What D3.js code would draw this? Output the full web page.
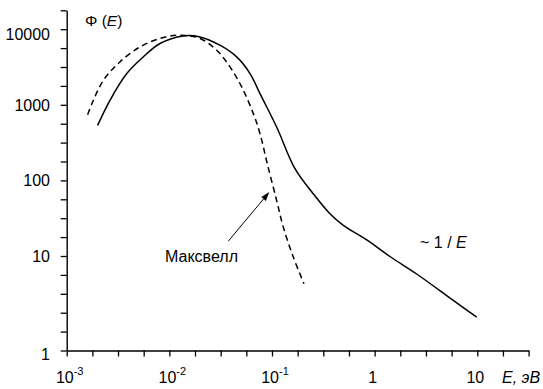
<!DOCTYPE html>
<html>
<head>
<meta charset="utf-8">
<script src="https://cdn.jsdelivr.net/npm/d3@7"></script>
<style>
  html, body { margin: 0; padding: 0; background: #fff; }
  svg { display: block; }
  text { font-family: "Liberation Sans", Arial, sans-serif; fill: #000; }
</style>
</head>
<body>
<svg id="chart" width="543" height="389"></svg>
<script>
// ---- data ----
const solidE   = [0.00200, 0.00264, 0.00385, 0.00557, 0.00811, 0.01368, 0.0199, 0.0311, 0.0453, 0.0611, 0.0764, 0.111, 0.1675, 0.252, 0.367, 0.496, 0.838, 1.41, 2.57, 5.84, 9.87];
const solidPhi = [535, 1148, 2590, 4300, 6470, 8150, 7910, 6140, 4300, 2590, 1406, 508, 143, 66.7, 36.2, 25.4, 16.3, 9.85, 5.78, 2.58, 1.55];

const maxwellE   = [0.0016, 0.00182, 0.00228, 0.00330, 0.00518, 0.00811, 0.0127, 0.0199, 0.0289, 0.0390, 0.0507, 0.0658, 0.0764, 0.0900, 0.111, 0.129, 0.1615, 0.205];
const maxwellPhi = [741, 1148, 2113, 3690, 5830, 7540, 8330, 7540, 5270, 3170, 1722, 764, 416, 166, 54.3, 24.0, 9.64, 4.29];

const xLabelValues = [1e-3, 1e-2, 1e-1, 1, 10];
const xLabelBase   = ["10", "10", "10", "1", "10"];
const xLabelSup    = ["-3", "-2", "-1", "", ""];

const yLabelValues = [Math.pow(10, -0.25), 10, 100, 1000, 10000];
const yLabels      = ["1", "10", "100", "1000", "10000"];

const yTitle = "Φ";
const xTitle = "E, эВ";
const maxwellLabel = "Максвелл";
const arrowFrom = [0.0375, 15.7];
const arrowTo   = [0.0942, 70];
const maxwellLabelAt = [0.00908, 8.45];
const slopeLabelAt = [2.77, 12.6];

// ---- scales ----
const svg = d3.select("#chart");
const x = d3.scaleLog().domain([1e-3, Math.pow(10, 1.5)]).range([66.7, 528.6]);
const y = d3.scaleLog().domain([Math.pow(10, -0.25), Math.pow(10, 4.25)]).range([350.5, 10.3]);

const xTicks = d3.range(0, 19).map(i => Math.pow(10, -3 + i * 0.25));
const yTicks = d3.range(0, 19).map(i => Math.pow(10, -0.25 + i * 0.25));

// ---- axes ----
const gx = svg.append("g").attr("transform", `translate(0,${y.range()[0]})`)
  .call(d3.axisBottom(x).tickValues(xTicks).tickFormat("").tickSize(6).tickSizeOuter(0));
const gy = svg.append("g").attr("transform", `translate(${x.range()[0]},0)`)
  .call(d3.axisLeft(y).tickValues(yTicks).tickFormat("").tickSize(6).tickSizeOuter(0));
[gx, gy].forEach(g => {
  g.select(".domain").attr("stroke", "#000").attr("stroke-width", 1.4);
  g.selectAll(".tick line").attr("stroke", "#000").attr("stroke-width", 1.3);
});

// x tick labels with superscripts
xLabelValues.forEach((v, i) => {
  const t = svg.append("text")
    .attr("x", x(v) + (xLabelSup[i] ? 3 : -2))
    .attr("y", 383)
    .attr("text-anchor", "middle")
    .attr("font-size", 16);
  t.append("tspan").text(xLabelBase[i]);
  if (xLabelSup[i]) {
    t.append("tspan").attr("dy", -8).attr("font-size", 11).text(xLabelSup[i]);
  }
});

// y tick labels
yLabelValues.forEach((v, i) => {
  svg.append("text")
    .attr("x", 50)
    .attr("y", y(v) + 6 + (i === yLabelValues.length - 1 ? 5 : 0) + (i === 0 ? 3 : 0))
    .attr("text-anchor", "end")
    .attr("font-size", 16)
    .text(yLabels[i]);
});

// axis titles
const yt = svg.append("text").attr("x", 85).attr("y", 26).attr("font-size", 15.5);
yt.append("tspan").text(yTitle + " (");
yt.append("tspan").attr("font-style", "italic").text("E");
yt.append("tspan").text(")");

svg.append("text").attr("x", 502).attr("y", 383).attr("font-size", 16)
  .attr("font-style", "italic").text(xTitle);

// ---- curves ----
const line = d3.line().x(d => x(d[0])).y(d => y(d[1])).curve(d3.curveCatmullRom.alpha(0.5));

svg.append("path")
  .datum(solidE.map((e, i) => [e, solidPhi[i]]))
  .attr("d", line)
  .attr("fill", "none").attr("stroke", "#000").attr("stroke-width", 1.5);

svg.append("path")
  .datum(maxwellE.map((e, i) => [e, maxwellPhi[i]]))
  .attr("d", line)
  .attr("fill", "none").attr("stroke", "#000").attr("stroke-width", 1.5)
  .attr("stroke-dasharray", "6,4");

// ---- annotations ----
const ax0 = x(arrowFrom[0]), ay0 = y(arrowFrom[1]);
const ax1 = x(arrowTo[0]), ay1 = y(arrowTo[1]);
const ang = Math.atan2(ay1 - ay0, ax1 - ax0);
const hl = 9, hw = 3;
const bx = ax1 - hl * Math.cos(ang), by = ay1 - hl * Math.sin(ang);
svg.append("line").attr("x1", ax0).attr("y1", ay0).attr("x2", bx).attr("y2", by)
  .attr("stroke", "#000").attr("stroke-width", 1);
svg.append("path")
  .attr("d", `M${ax1},${ay1}L${bx + hw * Math.sin(ang)},${by - hw * Math.cos(ang)}L${bx - hw * Math.sin(ang)},${by + hw * Math.cos(ang)}Z`)
  .attr("fill", "#000");

svg.append("text").attr("x", x(maxwellLabelAt[0])).attr("y", y(maxwellLabelAt[1]))
  .attr("font-size", 16).text(maxwellLabel);

const sl = svg.append("text").attr("x", x(slopeLabelAt[0])).attr("y", y(slopeLabelAt[1])).attr("font-size", 16);
sl.append("tspan").text("~ 1 / ");
sl.append("tspan").attr("font-style", "italic").text("E");
</script>
</body>
</html>
